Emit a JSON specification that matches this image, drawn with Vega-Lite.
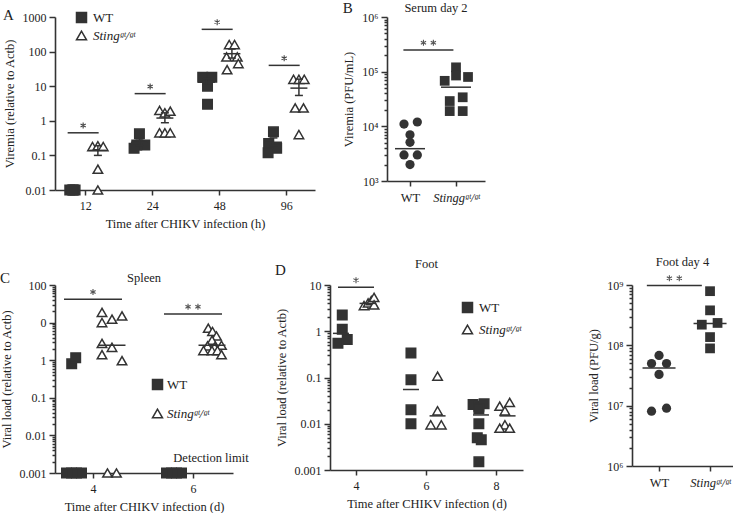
{
"$schema":"https://vega.github.io/schema/vega-lite/v6.json",
"background":"white",
"padding":{"left":0,"top":0,"right":0,"bottom":0},
"config":{
 "font":"Liberation Serif",
 "view":{"stroke":null},
 "axis":{"grid":false,"domainColor":"#333","domainWidth":1.6,"tickColor":"#333","tickWidth":1.5,"tickSize":5,"labelColor":"#222","titleColor":"#222","labelFont":"Liberation Serif","titleFont":"Liberation Serif","labelFontSize":12,"titleFontSize":12.5,"titleFontWeight":"normal","labelPadding":5,"titlePadding":6},
 "title":{"font":"Liberation Serif","fontSize":12.5,"fontWeight":"normal","color":"#222","offset":6},
 "legend":{"labelFont":"Liberation Serif","labelFontSize":13,"labelColor":"#222"}
},
"datasets":{
 "A":[
{"t":12,"g":"WT","c":-0.5,"v":0.01},{"t":12,"g":"WT","c":0,"v":0.01},{"t":12,"g":"WT","c":0.5,"v":0.01},{"t":12,"g":"WT","c":0.2,"v":0.01},
{"t":12,"g":"Sting","c":-1,"v":0.18},{"t":12,"g":"Sting","c":0,"v":0.19},{"t":12,"g":"Sting","c":1,"v":0.18},{"t":12,"g":"Sting","c":0,"v":0.04},{"t":12,"g":"Sting","c":0,"v":0.01},
{"t":24,"g":"WT","c":0,"v":0.42},{"t":24,"g":"WT","c":1,"v":0.2},{"t":24,"g":"WT","c":-0.5,"v":0.2},{"t":24,"g":"WT","c":-1,"v":0.16},
{"t":24,"g":"Sting","c":-1,"v":2.0},{"t":24,"g":"Sting","c":0,"v":1.7},{"t":24,"g":"Sting","c":1,"v":1.9},{"t":24,"g":"Sting","c":-1,"v":0.45},{"t":24,"g":"Sting","c":0,"v":0.45},{"t":24,"g":"Sting","c":1,"v":0.45},
{"t":48,"g":"WT","c":-0.7,"v":18},{"t":48,"g":"WT","c":1,"v":18},{"t":48,"g":"WT","c":0.2,"v":10},{"t":48,"g":"WT","c":0.2,"v":3},
{"t":48,"g":"Sting","c":-0.5,"v":160},{"t":48,"g":"Sting","c":0.5,"v":160},{"t":48,"g":"Sting","c":-1,"v":70},{"t":48,"g":"Sting","c":1,"v":70},{"t":48,"g":"Sting","c":1.2,"v":45},{"t":48,"g":"Sting","c":-0.9,"v":30},
{"t":96,"g":"WT","c":0,"v":0.48},{"t":96,"g":"WT","c":-0.9,"v":0.22},{"t":96,"g":"WT","c":0.6,"v":0.16},{"t":96,"g":"WT","c":-1,"v":0.12},
{"t":96,"g":"Sting","c":-1,"v":15.8},{"t":96,"g":"Sting","c":0,"v":15.8},{"t":96,"g":"Sting","c":1,"v":15.8},{"t":96,"g":"Sting","c":-0.7,"v":2.35},{"t":96,"g":"Sting","c":0.85,"v":2.35},{"t":96,"g":"Sting","c":0,"v":0.4}
 ],
 "Am":[
{"t":12,"g":"Sting","m":0.14,"lo":0.10,"hi":0.19},
{"t":24,"g":"WT","m":0.24,"lo":0.19,"hi":0.30},
{"t":24,"g":"Sting","m":1.2,"lo":0.88,"hi":1.7},
{"t":48,"g":"WT","m":13,"lo":10.5,"hi":16.5},
{"t":48,"g":"Sting","m":87,"lo":65,"hi":120},
{"t":96,"g":"WT","m":0.24,"lo":0.19,"hi":0.32},
{"t":96,"g":"Sting","m":8.8,"lo":5.4,"hi":16}
 ],
 "As":[{"t":12,"v":0.45,"lab":"*"},{"t":24,"v":6.1,"lab":"*"},{"t":48,"v":440,"lab":"*"},{"t":96,"v":40,"lab":"*"}],
 "B":[
{"g":"WT","c":-0.87,"v":11000},{"g":"WT","c":1.06,"v":12000},{"g":"WT","c":0,"v":7000},{"g":"WT","c":0,"v":5100},{"g":"WT","c":-0.87,"v":3000},{"g":"WT","c":1.06,"v":3000},{"g":"WT","c":0,"v":2000},
{"g":"Sting","c":0,"v":120000},{"g":"Sting","c":0,"v":85000},{"g":"Sting","c":-1.64,"v":68000},{"g":"Sting","c":1.74,"v":80000},{"g":"Sting","c":-0.91,"v":29000},{"g":"Sting","c":0.97,"v":34000},{"g":"Sting","c":-0.91,"v":19000},{"g":"Sting","c":0.97,"v":19000}
 ],
 "Bm":[{"g":"WT","m":3900},{"g":"Sting","m":52000}],
 "Bs":[{"v":250000,"lab":"**"}],
 "C":[
{"d":4,"g":"WT","c":-0.46,"v":0.8},{"d":4,"g":"WT","c":0.34,"v":1.17},{"d":4,"g":"WT","c":-1.5,"v":0.001},{"d":4,"g":"WT","c":-0.5,"v":0.001},{"d":4,"g":"WT","c":0.5,"v":0.001},{"d":4,"g":"WT","c":1.5,"v":0.001},
{"d":4,"g":"Sting","c":-2,"v":18.7},{"d":4,"g":"Sting","c":2,"v":15},{"d":4,"g":"Sting","c":0,"v":12.3},{"d":4,"g":"Sting","c":-2,"v":10},{"d":4,"g":"Sting","c":-2,"v":2.8},{"d":4,"g":"Sting","c":0,"v":2.2},{"d":4,"g":"Sting","c":-2,"v":1.4},{"d":4,"g":"Sting","c":2,"v":0.97},{"d":4,"g":"Sting","c":-0.9,"v":0.001},{"d":4,"g":"Sting","c":0.9,"v":0.001},
{"d":6,"g":"WT","c":-1.5,"v":0.001},{"d":6,"g":"WT","c":-0.5,"v":0.001},{"d":6,"g":"WT","c":0.5,"v":0.001},{"d":6,"g":"WT","c":1.5,"v":0.001},
{"d":6,"g":"Sting","c":-0.75,"v":7.1},{"d":6,"g":"Sting","c":0.1,"v":5.8},{"d":6,"g":"Sting","c":0.9,"v":4.4},{"d":6,"g":"Sting","c":0,"v":3.4},{"d":6,"g":"Sting","c":1.9,"v":2.5},{"d":6,"g":"Sting","c":-0.9,"v":2.4},{"d":6,"g":"Sting","c":0.5,"v":2.2},{"d":6,"g":"Sting","c":-1.7,"v":1.8},{"d":6,"g":"Sting","c":0,"v":1.8},{"d":6,"g":"Sting","c":1.1,"v":1.8},{"d":6,"g":"Sting","c":1.9,"v":1.4}
 ],
 "Cm":[{"d":4,"g":"Sting","m":2.5},{"d":6,"g":"Sting","m":2.5}],
 "Cs":[{"d":4,"v":42,"lab":"*"},{"d":6,"v":17,"lab":"**"}],
 "Cd":[{"v":0.001,"lab":"Detection limit"}],
 "D":[
{"d":4,"g":"WT","c":0.25,"v":2.25},{"d":4,"g":"WT","c":0.25,"v":1.1},{"d":4,"g":"WT","c":-0.57,"v":0.55},{"d":4,"g":"WT","c":1.2,"v":0.66},
{"d":4,"g":"Sting","c":-0.67,"v":3.6},{"d":4,"g":"Sting","c":0.1,"v":4.1},{"d":4,"g":"Sting","c":0.72,"v":4.6},{"d":4,"g":"Sting","c":1.24,"v":5.4},{"d":4,"g":"Sting","c":1.24,"v":3.7},
{"d":6,"g":"WT","c":0,"v":0.34},{"d":6,"g":"WT","c":0,"v":0.089},{"d":6,"g":"WT","c":0,"v":0.02},{"d":6,"g":"WT","c":0,"v":0.01},
{"d":6,"g":"Sting","c":0,"v":0.107},{"d":6,"g":"Sting","c":0,"v":0.019},{"d":6,"g":"Sting","c":-1.3,"v":0.0095},{"d":6,"g":"Sting","c":0.72,"v":0.0095},
{"d":8,"g":"WT","c":-1.5,"v":0.026},{"d":8,"g":"WT","c":-0.4,"v":0.024},{"d":8,"g":"WT","c":0.6,"v":0.027},{"d":8,"g":"WT","c":-0.4,"v":0.021},{"d":8,"g":"WT","c":-0.4,"v":0.01},{"d":8,"g":"WT","c":-0.7,"v":0.005},{"d":8,"g":"WT","c":0.06,"v":0.0045},{"d":8,"g":"WT","c":-0.4,"v":0.0015},
{"d":8,"g":"Sting","c":-1.5,"v":0.024},{"d":8,"g":"Sting","c":0.4,"v":0.029},{"d":8,"g":"Sting","c":-0.5,"v":0.019},{"d":8,"g":"Sting","c":-0.5,"v":0.0095},{"d":8,"g":"Sting","c":-1.5,"v":0.008},{"d":8,"g":"Sting","c":0.4,"v":0.008}
 ],
 "Dm":[{"d":4,"g":"WT","m":0.9},{"d":4,"g":"Sting","m":4.0},{"d":6,"g":"WT","m":0.055},{"d":6,"g":"Sting","m":0.0148},{"d":8,"g":"WT","m":0.0155},{"d":8,"g":"Sting","m":0.0148}],
 "Ds":[{"d":4,"v":8.9,"lab":"*"}],
 "E":[
{"g":"WT","c":0,"v":68000000},{"g":"WT","c":-1,"v":50000000},{"g":"WT","c":1,"v":50000000},{"g":"WT","c":0,"v":33000000},{"g":"WT","c":-1,"v":8100000},{"g":"WT","c":1,"v":9100000},
{"g":"Sting","c":0,"v":790000000},{"g":"Sting","c":0,"v":380000000},{"g":"Sting","c":-1.1,"v":220000000},{"g":"Sting","c":1,"v":235000000},{"g":"Sting","c":0,"v":137000000},{"g":"Sting","c":0,"v":89000000}
 ],
 "Em":[{"g":"WT","m":42000000},{"g":"Sting","m":230000000}],
 "Es":[{"v":980000000,"lab":"**"}]
},
"resolve":{"scale":{"shape":"independent","fill":"independent"},"legend":{"shape":"independent","fill":"independent"}},
"spacing":25,
"vconcat":[
 {"hconcat":[
  {
   "title":{"text":"A","anchor":"start","frame":"bounds","fontSize":15,"offset":-12},
   "width":260,"height":173,
   "encoding":{
    "x":{"field":"xp","type":"quantitative","title":"Time after CHIKV infection (h)","scale":{"domain":[-0.45,3.43],"nice":false,"zero":false},"axis":{"values":[0,1,2,3],"labelExpr":"['12','24','48','96'][datum.value]"}},
    "y":{"field":"v","type":"quantitative","title":"Viremia (relative to Actb)","scale":{"type":"log","domain":[0.01,1000],"nice":false},"axis":{"values":[0.01,0.1,1,10,100,1000],"labelExpr":"'' + datum.value","tickSize":6,"labelPadding":3}}
   },
   "layer":[
    {"data":{"name":"A"},"transform":[{"calculate":"indexof([12,24,48,96], datum.t) + (datum.g == 'WT' ? -0.19 : 0.19) + datum.c*0.08","as":"xp"},{"calculate":"datum.g","as":"g2"}],
     "mark":{"type":"point","size":90,"color":"#333","strokeWidth":1.5,"opacity":1},
     "encoding":{
      "shape":{"field":"g","type":"nominal","scale":{"domain":["WT","Sting"],"range":["square","triangle-up"]},"legend":{"values":["WT"],"orient":"none","legendX":20,"legendY":-6,"title":null,"symbolSize":100,"symbolFillColor":"#333","symbolStrokeColor":"#333","symbolStrokeWidth":1.5,"labelOffset":5}},
      "fill":{"field":"g2","type":"nominal","scale":{"domain":["Sting","WT"],"range":["#ffffff","#333333"]},"legend":{"values":["Sting"],"orient":"none","legendX":20,"legendY":12,"title":null,"symbolType":"triangle-up","symbolSize":100,"symbolStrokeColor":"#333","symbolStrokeWidth":1.5,"labelOffset":5,"labelFontStyle":"italic","labelExpr":"'Stingᵍᵗ/ᵍᵗ'"}}
     }},
    {"data":{"name":"Am"},"transform":[{"calculate":"indexof([12,24,48,96], datum.t) + (datum.g == 'WT' ? -0.19 : 0.19)","as":"xp"},{"calculate":"datum.m","as":"v"}],
     "mark":{"type":"tick","orient":"horizontal","size":17,"thickness":1.5,"color":"#333","opacity":1}},
    {"data":{"name":"Am"},"transform":[{"calculate":"indexof([12,24,48,96], datum.t) + (datum.g == 'WT' ? -0.19 : 0.19)","as":"xp"},{"calculate":"datum.lo","as":"v"}],
     "mark":{"type":"rule","color":"#333","strokeWidth":1.5},"encoding":{"y2":{"field":"hi"}}},
    {"data":{"name":"Am"},"transform":[{"calculate":"indexof([12,24,48,96], datum.t) + (datum.g == 'WT' ? -0.19 : 0.19)","as":"xp"},{"fold":["lo","hi"],"as":["k","v"]}],
     "mark":{"type":"tick","orient":"horizontal","size":8,"thickness":1.5,"color":"#333","opacity":1}},
    {"data":{"name":"As"},"transform":[{"calculate":"indexof([12,24,48,96], datum.t) - 0.03","as":"xp"}],
     "mark":{"type":"tick","orient":"horizontal","size":31,"thickness":1.5,"color":"#333","opacity":1}},
    {"data":{"name":"As"},"transform":[{"calculate":"indexof([12,24,48,96], datum.t) - 0.03","as":"xp"}],
     "mark":{"type":"point","shape":"M0,-3.4L0,-1.4M-0.87,-2.9L0.87,-1.9M-0.87,-1.9L0.87,-2.9","size":36,"filled":false,"stroke":"#444","strokeWidth":1.1,"opacity":1}}
   ]
  },
  {
   "title":{"text":"B","anchor":"start","frame":"bounds","fontSize":15,"offset":-14},
   "resolve":{"scale":{"shape":"independent","fill":"independent"},"legend":{"shape":"independent","fill":"independent"}},
   "vconcat":[{
    "title":{"text":"Serum day 2","anchor":"middle","frame":"group","offset":-3},
    "width":98,"height":164,
    "encoding":{
     "x":{"field":"xp","type":"quantitative","title":null,"scale":{"domain":[-0.5,1.63],"nice":false,"zero":false},"axis":{"values":[0,1],"labelExpr":"datum.value == 0 ? 'WT' : 'Stinggᵍᵗ/ᵍᵗ'","labelFontSize":12.5,"labelFontStyle":{"condition":{"test":"datum.value == 1","value":"italic"},"value":"normal"}}},
     "y":{"field":"v","type":"quantitative","title":"Viremia (PFU/mL)","scale":{"type":"log","domain":[1000,1000000],"nice":false},"axis":{"labelPadding":3,"values":[1000,2000,3000,4000,5000,6000,7000,8000,9000,10000,20000,30000,40000,50000,60000,70000,80000,90000,100000,200000,300000,400000,500000,600000,700000,800000,900000,1000000],"labelExpr":"abs(log(datum.value)/LN10 - round(log(datum.value)/LN10)) < 0.001 ? '10' + ['⁰','¹','²','³','⁴','⁵','⁶','⁷','⁸','⁹'][round(log(datum.value)/LN10)] : ''","tickSize":{"condition":{"test":"abs(log(datum.value)/LN10 - round(log(datum.value)/LN10)) < 0.001","value":6},"value":3}}}
    },
    "layer":[
     {"data":{"name":"B"},"transform":[{"filter":"datum.g == 'WT'"},{"calculate":"datum.c*0.15","as":"xp"}],"mark":{"type":"point","shape":"circle","filled":true,"size":85,"color":"#333","opacity":1}},
     {"data":{"name":"B"},"transform":[{"filter":"datum.g != 'WT'"},{"calculate":"1 + datum.c*0.15","as":"xp"}],"mark":{"type":"point","shape":"square","filled":true,"size":95,"color":"#333","opacity":1}},
     {"data":{"name":"Bm"},"transform":[{"calculate":"datum.g == 'WT' ? 0 : 1","as":"xp"},{"calculate":"datum.m","as":"v"}],"mark":{"type":"tick","orient":"horizontal","size":30,"thickness":1.5,"color":"#333","opacity":1}},
     {"data":{"name":"Bs"},"transform":[{"calculate":"0.4","as":"xp"}],"mark":{"type":"tick","orient":"horizontal","size":50,"thickness":1.5,"color":"#333","opacity":1}},
     {"data":{"name":"Bs"},"transform":[{"calculate":"0.4","as":"xp"}],"mark":{"type":"point","shape":"M-1.65,-3.4L-1.65,-1.4M-2.52,-2.9L-0.78,-1.9M-2.52,-1.9L-0.78,-2.9M1.65,-3.4L1.65,-1.4M0.78,-2.9L2.52,-1.9M0.78,-1.9L2.52,-2.9","size":36,"filled":false,"stroke":"#555","strokeWidth":1.1,"opacity":1}}
    ]
   }]
  }
 ],"spacing":27,
 "resolve":{"scale":{"shape":"independent","fill":"independent"},"legend":{"shape":"independent","fill":"independent"}}},
 {"hconcat":[
  {
   "title":{"text":"C","anchor":"start","frame":"bounds","fontSize":15,"offset":-14},
   "resolve":{"scale":{"shape":"independent","fill":"independent"},"legend":{"shape":"independent","fill":"independent"}},
   "vconcat":[{
    "title":{"text":"Spleen","anchor":"middle","frame":"group","offset":-5},
    "width":178,"height":188,
    "encoding":{
     "x":{"field":"xp","type":"quantitative","title":"Time after CHIKV infection (d)","scale":{"domain":[3.24,6.8],"nice":false,"zero":false},"axis":{"values":[4,6]}},
     "y":{"field":"v","type":"quantitative","title":"Viral load (relative to Actb)","scale":{"type":"log","domain":[0.001,100],"nice":false},"axis":{"labelPadding":3,"values":[0.001,0.002,0.003,0.004,0.005,0.006,0.007,0.008,0.009,0.01,0.02,0.03,0.04,0.05,0.06,0.07,0.08,0.09,0.1,0.2,0.3,0.4,0.5,0.6,0.7,0.8,0.9,1,2,3,4,5,6,7,8,9,10,20,30,40,50,60,70,80,90,100],"labelExpr":"abs(log(datum.value)/LN10 - round(log(datum.value)/LN10)) < 0.001 ? (abs(datum.value - 10) < 0.01 ? '0' : '' + datum.value) : ''","tickSize":{"condition":{"test":"abs(log(datum.value)/LN10 - round(log(datum.value)/LN10)) < 0.001","value":6},"value":3}}}
    },
    "layer":[
     {"data":{"name":"C"},"transform":[{"calculate":"datum.d + (datum.g == 'WT' ? -0.38 : 0.38) + datum.c*0.1","as":"xp"},{"calculate":"datum.g","as":"g2"}],
      "mark":{"type":"point","size":90,"color":"#333","strokeWidth":1.5,"opacity":1},
      "encoding":{
       "shape":{"field":"g","type":"nominal","scale":{"domain":["WT","Sting"],"range":["square","triangle-up"]},"legend":{"values":["WT"],"orient":"none","legendX":96,"legendY":93,"title":null,"symbolSize":100,"symbolFillColor":"#333","symbolStrokeColor":"#333","symbolStrokeWidth":1.5,"labelOffset":3}},
       "fill":{"field":"g2","type":"nominal","scale":{"domain":["Sting","WT"],"range":["#ffffff","#333333"]},"legend":{"values":["Sting"],"orient":"none","legendX":96,"legendY":122,"title":null,"symbolType":"triangle-up","symbolSize":100,"symbolStrokeColor":"#333","symbolStrokeWidth":1.5,"labelOffset":3,"labelFontStyle":"italic","labelExpr":"'Stingᵍᵗ/ᵍᵗ'"}}
      }},
     {"data":{"name":"Cm"},"transform":[{"calculate":"datum.d + 0.38","as":"xp"},{"calculate":"datum.m","as":"v"}],
      "mark":{"type":"tick","orient":"horizontal","size":27,"thickness":1.5,"color":"#333","opacity":1}},
     {"data":{"name":"Cs"},"transform":[{"calculate":"datum.d","as":"xp"}],
      "mark":{"type":"tick","orient":"horizontal","size":58,"thickness":1.5,"color":"#333","opacity":1}},
     {"data":{"name":"Cs"},"transform":[{"filter":"datum.lab == '*'"},{"calculate":"datum.d","as":"xp"}],
      "mark":{"type":"point","shape":"M0,-3.4L0,-1.4M-0.87,-2.9L0.87,-1.9M-0.87,-1.9L0.87,-2.9","size":36,"filled":false,"stroke":"#555","strokeWidth":1.1,"opacity":1}},
     {"data":{"name":"Cs"},"transform":[{"filter":"datum.lab == '**'"},{"calculate":"datum.d","as":"xp"}],
      "mark":{"type":"point","shape":"M-1.65,-3.4L-1.65,-1.4M-2.52,-2.9L-0.78,-1.9M-2.52,-1.9L-0.78,-2.9M1.65,-3.4L1.65,-1.4M0.78,-2.9L2.52,-1.9M0.78,-1.9L2.52,-2.9","size":36,"filled":false,"stroke":"#555","strokeWidth":1.1,"opacity":1}},
     {"data":{"name":"Cd"},"transform":[{"calculate":"6.36","as":"xp"}],"mark":{"type":"text","fontSize":12.5,"dy":-15,"color":"#222"},"encoding":{"text":{"field":"lab"}}}
    ]
   }]
  },
  {"hconcat":[
   {
    "title":{"text":"D","anchor":"start","frame":"bounds","fontSize":15,"offset":-20},
    "resolve":{"scale":{"shape":"independent","fill":"independent"},"legend":{"shape":"independent","fill":"independent"}},
    "vconcat":[{
     "title":{"text":"Foot","anchor":"middle","frame":"group","offset":4},
     "width":193,"height":185,
     "encoding":{
      "x":{"field":"xp","type":"quantitative","title":"Time after CHIKV infection (d)","scale":{"domain":[3.257,8.771],"nice":false,"zero":false},"axis":{"values":[4,6,8]}},
      "y":{"field":"v","type":"quantitative","title":"Viral load (relative to Actb)","scale":{"type":"log","domain":[0.001,10],"nice":false},"axis":{"labelPadding":3,"values":[0.001,0.002,0.003,0.004,0.005,0.006,0.007,0.008,0.009,0.01,0.02,0.03,0.04,0.05,0.06,0.07,0.08,0.09,0.1,0.2,0.3,0.4,0.5,0.6,0.7,0.8,0.9,1,2,3,4,5,6,7,8,9,10],"labelExpr":"abs(log(datum.value)/LN10 - round(log(datum.value)/LN10)) < 0.001 ? '' + datum.value : ''","tickSize":{"condition":{"test":"abs(log(datum.value)/LN10 - round(log(datum.value)/LN10)) < 0.001","value":6},"value":3}}}
     },
     "layer":[
      {"data":{"name":"D"},"transform":[{"calculate":"datum.d + (datum.g == 'WT' ? -0.43 : 0.33) + datum.c*0.15","as":"xp"},{"calculate":"datum.g","as":"g2"}],
       "mark":{"type":"point","size":90,"color":"#333","strokeWidth":1.5,"opacity":1},
       "encoding":{
        "shape":{"field":"g","type":"nominal","scale":{"domain":["WT","Sting"],"range":["square","triangle-up"]},"legend":{"values":["WT"],"orient":"none","legendX":131,"legendY":16,"title":null,"symbolSize":100,"symbolFillColor":"#333","symbolStrokeColor":"#333","symbolStrokeWidth":1.5,"labelOffset":5}},
        "fill":{"field":"g2","type":"nominal","scale":{"domain":["Sting","WT"],"range":["#ffffff","#333333"]},"legend":{"values":["Sting"],"orient":"none","legendX":131,"legendY":38,"title":null,"symbolType":"triangle-up","symbolSize":100,"symbolStrokeColor":"#333","symbolStrokeWidth":1.5,"labelOffset":5,"labelFontStyle":"italic","labelExpr":"'Stingᵍᵗ/ᵍᵗ'"}}
       }},
      {"data":{"name":"Dm"},"transform":[{"calculate":"datum.d + (datum.g == 'WT' ? -0.43 : 0.33)","as":"xp"},{"calculate":"datum.m","as":"v"}],
       "mark":{"type":"tick","orient":"horizontal","size":16,"thickness":1.5,"color":"#333","opacity":1}},
      {"data":{"name":"Ds"},"transform":[{"calculate":"datum.d","as":"xp"}],
       "mark":{"type":"tick","orient":"horizontal","size":36,"thickness":1.5,"color":"#333","opacity":1}},
      {"data":{"name":"Ds"},"transform":[{"calculate":"datum.d","as":"xp"}],
       "mark":{"type":"point","shape":"M0,-3.4L0,-1.4M-0.87,-2.9L0.87,-1.9M-0.87,-1.9L0.87,-2.9","size":36,"filled":false,"stroke":"#555","strokeWidth":1.1,"opacity":1}}
     ]
    }]
   },
   {
    "title":{"text":"Foot day 4","anchor":"middle","frame":"group","offset":5},
    "width":101,"height":181,
    "encoding":{
     "x":{"field":"xp","type":"quantitative","title":null,"scale":{"domain":[-0.53,1.45],"nice":false,"zero":false},"axis":{"values":[0,1],"labelExpr":"datum.value == 0 ? 'WT' : 'Stingᵍᵗ/ᵍᵗ'","labelFontSize":12.5,"labelFontStyle":{"condition":{"test":"datum.value == 1","value":"italic"},"value":"normal"}}},
     "y":{"field":"v","type":"quantitative","title":"Viral load (PFU/g)","scale":{"type":"log","domain":[1000000,1000000000],"nice":false},"axis":{"labelPadding":3,"values":[1000000,2000000,3000000,4000000,5000000,6000000,7000000,8000000,9000000,10000000,20000000,30000000,40000000,50000000,60000000,70000000,80000000,90000000,100000000,200000000,300000000,400000000,500000000,600000000,700000000,800000000,900000000,1000000000],"labelExpr":"abs(log(datum.value)/LN10 - round(log(datum.value)/LN10)) < 0.001 ? '10' + ['⁰','¹','²','³','⁴','⁵','⁶','⁷','⁸','⁹'][round(log(datum.value)/LN10)] : ''","tickSize":{"condition":{"test":"abs(log(datum.value)/LN10 - round(log(datum.value)/LN10)) < 0.001","value":6},"value":3}}}
    },
    "layer":[
     {"data":{"name":"E"},"transform":[{"filter":"datum.g == 'WT'"},{"calculate":"datum.c*0.147","as":"xp"}],"mark":{"type":"point","shape":"circle","filled":true,"size":85,"color":"#333","opacity":1}},
     {"data":{"name":"E"},"transform":[{"filter":"datum.g != 'WT'"},{"calculate":"1 + datum.c*0.147","as":"xp"}],"mark":{"type":"point","shape":"square","filled":true,"size":95,"color":"#333","opacity":1}},
     {"data":{"name":"Em"},"transform":[{"calculate":"datum.g == 'WT' ? 0 : 1","as":"xp"},{"calculate":"datum.m","as":"v"}],"mark":{"type":"tick","orient":"horizontal","size":33,"thickness":1.5,"color":"#333","opacity":1}},
     {"data":{"name":"Es"},"transform":[{"calculate":"0.3","as":"xp"}],"mark":{"type":"tick","orient":"horizontal","size":55,"thickness":1.5,"color":"#333","opacity":1}},
     {"data":{"name":"Es"},"transform":[{"calculate":"0.3","as":"xp"}],"mark":{"type":"point","shape":"M-1.65,-3.4L-1.65,-1.4M-2.52,-2.9L-0.78,-1.9M-2.52,-1.9L-0.78,-2.9M1.65,-3.4L1.65,-1.4M0.78,-2.9L2.52,-1.9M0.78,-1.9L2.52,-2.9","size":36,"filled":false,"stroke":"#555","strokeWidth":1.1,"opacity":1}}
    ]
   }
  ],"spacing":64,
  "resolve":{"scale":{"shape":"independent","fill":"independent"},"legend":{"shape":"independent","fill":"independent"}}}
 ],"spacing":26,
 "resolve":{"scale":{"shape":"independent","fill":"independent"},"legend":{"shape":"independent","fill":"independent"}}}
]
}
